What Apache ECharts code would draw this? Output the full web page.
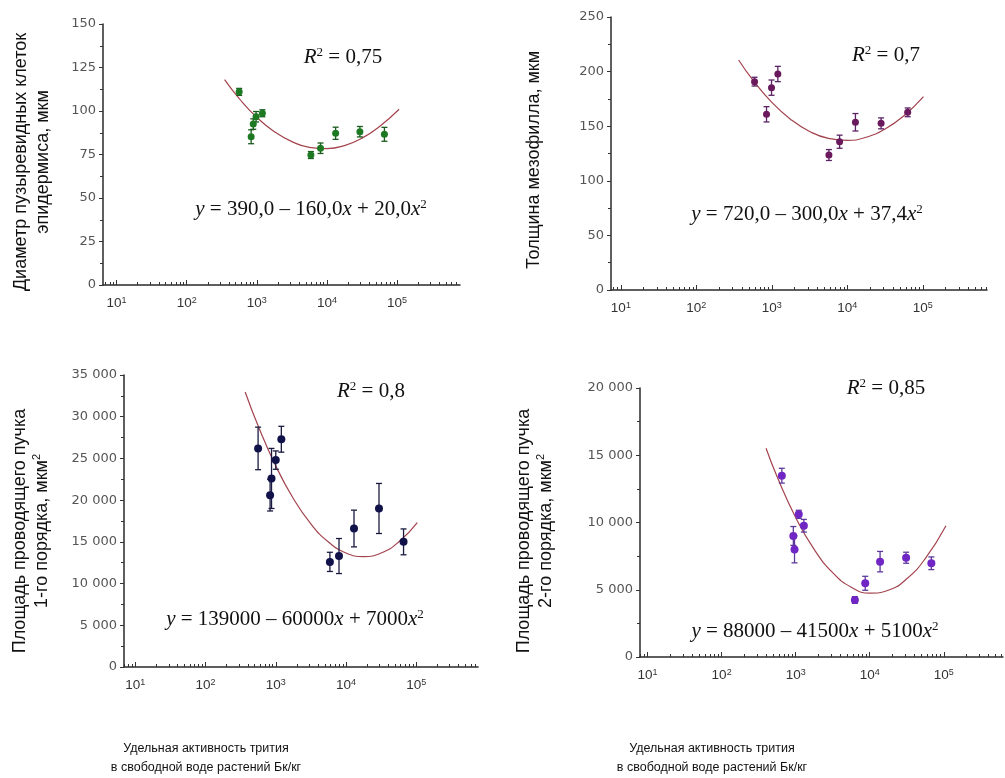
<!DOCTYPE html>
<html><head><meta charset="utf-8">
<script src="https://cdn.jsdelivr.net/npm/echarts@6/dist/echarts.min.js"></script>
<style>html,body{margin:0;padding:0;background:#fff}#c{width:1005px;height:778px}</style>
</head><body><div id="c"></div>
<script>
// ---- Panel A: Диаметр пузыревидных клеток эпидермиса ----
const aPtsX = [560, 830, 890, 975, 1200, 5900, 8100, 13300, 29500, 66000];
const aPtsY = [111, 85.2, 92.5, 96.7, 98.7, 74.7, 78.6, 87.2, 88.1, 86.6];
const aErr  = [2, 4, 3, 3, 2, 2, 3, 3.5, 3, 4];
const aFitX = [347, 562, 1000, 1778, 3162, 5623, 10000, 17783, 31623, 56234, 107000];
const aFitY = [118, 107.1, 96.3, 88.1, 82.4, 79.1, 78.4, 80.1, 84.4, 91.1, 101];
// ---- Panel B: Толщина мезофилла ----
const bPtsX = [590, 850, 990, 1200, 5700, 7900, 12800, 28000, 63000];
const bPtsY = [190.8, 160.9, 185.3, 197.8, 123.6, 135.8, 153.6, 152.6, 162.7];
const bErr  = [4, 7, 7, 7, 5, 6, 8, 5, 4];
const bFitX = [363, 562, 1000, 1778, 3162, 5623, 10000, 17783, 31623, 56234, 102000];
const bFitY = [210.6, 192.1, 171.8, 156.2, 145.2, 138.8, 137, 139.9, 147.4, 159.5, 177];
// ---- Panel C: Площадь проводящего пучка 1-го порядка ----
const cPtsX = [560, 830, 870, 1000, 1200, 5900, 7950, 13000, 29500, 66000];
const cPtsY = [26200, 20600, 22600, 24800, 27300, 12600, 13300, 16600, 19000, 15000];
const cErr  = [2550, 1900, 3600, 1100, 1550, 1150, 2100, 2200, 3000, 1550];
const cFitX = [367, 562, 1000, 1778, 3162, 5623, 10000, 17783, 31623, 56234, 103500];
const cFitY = [32970, 28880, 24100, 20190, 17150, 14980, 13670, 13240, 13670, 14980, 17310];
// ---- Panel D: Площадь проводящего пучка 2-го порядка ----
const dPtsX = [650, 930, 965, 1100, 1290, 6300, 8700, 13800, 31000, 68000];
const dPtsY = [13480, 9000, 8000, 10610, 9760, 4240, 5480, 7090, 7380, 6970];
const dErr  = [550, 700, 1000, 300, 470, 250, 520, 760, 410, 470];
const dFitX = [398, 562, 1000, 1778, 3162, 5623, 10000, 17783, 31623, 56234, 107000];
const dFitY = [15520, 13400, 10375, 8000, 6270, 5190, 4750, 4960, 5815, 7315, 9765];

// tick labels
const decadeTicks = [10, 100, 1000, 10000, 100000];
const minorMult = [2, 3, 4, 5, 6, 7, 8, 9];
const yMaxes = [150, 250, 35000, 20000];
const yIntervals = [25, 50, 5000, 5000];
const yTitles = ['Диаметр пузыревидных клеток\nэпидермиса, мкм', 'Толщина мезофилла, мкм',
  'Площадь проводящего пучка\n1-го порядка, мкм{s|2}', 'Площадь проводящего пучка\n2-го порядка, мкм{s|2}'];
const r2Texts = ['0,75', '0,7', '0,8', '0,85'];
const eqTexts = [
  '{i|y} = 390,0 – 160,0{i|x} + 20,0{i|x}{s|2}',
  '{i|y} = 720,0 – 300,0{i|x} + 37,4{i|x}{s|2}',
  '{i|y} = 139000 – 60000{i|x} + 7000{i|x}{s|2}',
  '{i|y} = 88000 – 41500{i|x} + 5100{i|x}{s|2}'
];
const xTitle = 'Удельная активность трития\nв свободной воде растений Бк/кг';

const ptColors = ['#1d7a22', '#6a1a5c', '#12124a', '#7026c4'];
const barColors = ['#1a5a1e', '#5a2364', '#1a1a40', '#5c3a9a'];
const fitColor = '#a3434d';

// layout
const grids = [
  {left: 103, top: 24, width: 357, height: 261},
  {left: 611, top: 17, width: 376, height: 273},
  {left: 124, top: 375, width: 354, height: 292},
  {left: 640, top: 388, width: 363, height: 269}
];
const xRanges = [[6.4, 790000], [7.4, 708000], [6.9, 758000], [7.9, 631000]];

const minorTicks = [];
for (let k = 0; k <= 5; k++) minorMult.forEach(m => minorTicks.push(m * Math.pow(10, k)));

const supDigits = v => '10{s|' + Math.round(Math.log10(v)) + '}';
const fmtThousands = v => v === 0 ? '0' : String(v).replace(/\B(?=(\d{3})+(?!\d))/g, ' ');

const xAxis = [], yAxis = [], series = [];
const all = [
  [aPtsX, aPtsY, aErr, aFitX, aFitY],
  [bPtsX, bPtsY, bErr, bFitX, bFitY],
  [cPtsX, cPtsY, cErr, cFitX, cFitY],
  [dPtsX, dPtsY, dErr, dFitX, dFitY]
];
const axisLine = {show: true, onZero: false, lineStyle: {color: '#2a2a2a', width: 1.5}};
all.forEach((p, i) => {
  const [lo, hi] = xRanges[i];
  xAxis.push({
    type: 'log', gridIndex: i, min: lo, max: hi, position: 'bottom', offset: 0,
    axisLine,
    axisTick: {show: true, inside: true, length: 5, customValues: decadeTicks, lineStyle: {color: '#333', width: 1}},
    axisLabel: {show: true, customValues: decadeTicks, formatter: supDigits, color: '#333',
      fontFamily: 'Liberation Sans', fontSize: 13.5, margin: 11,
      rich: {s: {fontSize: 9, verticalAlign: 'top', color: '#333', fontFamily: 'Liberation Sans'}}},
    splitLine: {show: false}, minorTick: {show: false}
  });
  xAxis.push({
    type: 'log', gridIndex: i, min: lo, max: hi, position: 'bottom', offset: 0,
    axisLine: {show: false},
    axisTick: {show: true, inside: true, length: 3, customValues: minorTicks, lineStyle: {color: '#333', width: 1}},
    axisLabel: {show: false}, splitLine: {show: false}
  });
  yAxis.push({
    type: 'value', gridIndex: i, min: 0, max: yMaxes[i], interval: yIntervals[i],
    axisLine,
    axisTick: {show: true, inside: false, length: 4, lineStyle: {color: '#333'}},
    minorTick: {show: true, splitNumber: 2, length: 3, lineStyle: {color: '#333'}},
    axisLabel: {color: '#555', fontFamily: 'DejaVu Sans', fontSize: 13, margin: 7, formatter: fmtThousands},
    splitLine: {show: false}
  });
  const [px, py, pe, fx, fy] = p;
  const col = barColors[i];
  series.push({
    type: 'line', xAxisIndex: 2 * i, yAxisIndex: i, smooth: true, symbol: 'none',
    lineStyle: {color: fitColor, width: 1.2}, data: fx.map((x, j) => [x, fy[j]]), z: 1, silent: true
  });
  series.push({
    type: 'custom', xAxisIndex: 2 * i, yAxisIndex: i, silent: true, z: 2,
    data: px.map((x, j) => [x, py[j] - pe[j], py[j] + pe[j]]),
    encode: {x: 0, y: [1, 2]},
    renderItem: (params, api) => {
      const a = api.coord([api.value(0), api.value(1)]);
      const b = api.coord([api.value(0), api.value(2)]);
      const w = 3;
      const st = {stroke: col, lineWidth: 1.3};
      return {type: 'group', children: [
        {type: 'line', shape: {x1: a[0], y1: a[1], x2: b[0], y2: b[1]}, style: st},
        {type: 'line', shape: {x1: a[0] - w, y1: a[1], x2: a[0] + w, y2: a[1]}, style: st},
        {type: 'line', shape: {x1: b[0] - w, y1: b[1], x2: b[0] + w, y2: b[1]}, style: st}
      ]};
    }
  });
  series.push({
    type: 'scatter', xAxisIndex: 2 * i, yAxisIndex: i, symbol: 'circle', symbolSize: i >= 2 ? 8 : 7,
    itemStyle: {color: ptColors[i], opacity: 1}, data: px.map((x, j) => [x, py[j]]), z: 3, silent: true
  });
});

// text layout
const r2Pos = [[343, 57], [886, 55], [371, 391], [886, 388]];
const eqPos = [[311, 209], [807, 214], [295, 619], [815, 631]];
const yTitlePos = [[32, 162], [534, 160], [31, 531], [535, 531]];
const xTitlePos = [[206, 758], [712, 758]];
const serifRich = {
  i: {fontStyle: 'italic', fontFamily: 'Liberation Serif', fontSize: 21, fill: '#111'},
  s: {fontSize: 13, verticalAlign: 'top', fontFamily: 'Liberation Serif', fill: '#111'}
};
const graphic = [];
r2Texts.forEach((t, i) => {
  graphic.push({type: 'text', x: r2Pos[i][0], y: r2Pos[i][1], silent: true,
    style: {text: '{i|R}{s|2} = ' + t, fontFamily: 'Liberation Serif', fontSize: 21, fill: '#111',
      align: 'center', verticalAlign: 'middle', rich: serifRich}});
  graphic.push({type: 'text', x: eqPos[i][0], y: eqPos[i][1], silent: true,
    style: {text: eqTexts[i], fontFamily: 'Liberation Serif', fontSize: 21, fill: '#111',
      align: 'center', verticalAlign: 'middle', rich: serifRich}});
  graphic.push({type: 'text', x: yTitlePos[i][0], y: yTitlePos[i][1], rotation: Math.PI / 2, silent: true,
    style: {text: yTitles[i], fontFamily: 'Liberation Sans', fontSize: 18, lineHeight: 22, fill: '#111',
      align: 'center', verticalAlign: 'middle',
      rich: {s: {fontSize: 11, verticalAlign: 'top', fontFamily: 'Liberation Sans', fill: '#111'}}}});
});
xTitlePos.forEach(p => {
  graphic.push({type: 'text', x: p[0], y: p[1], silent: true,
    style: {text: xTitle, fontFamily: 'Liberation Sans', fontSize: 12.5, lineHeight: 19, fill: '#111',
      align: 'center', verticalAlign: 'middle'}});
});

const chart = echarts.init(document.getElementById('c'), null, {renderer: 'canvas'});
chart.setOption({
  animation: false,
  backgroundColor: '#fff',
  grid: grids.map(g => Object.assign({containLabel: false}, g)),
  xAxis, yAxis, series, graphic
});
</script></body></html>
